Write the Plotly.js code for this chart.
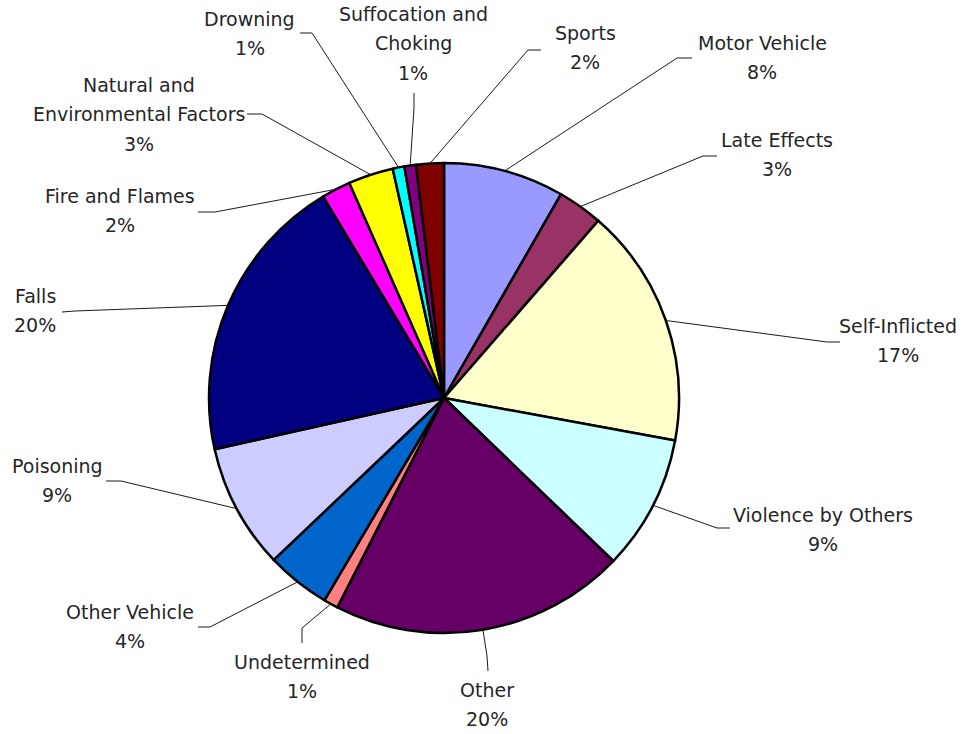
<!DOCTYPE html>
<html>
<head>
<meta charset="utf-8">
<script src="https://cdn.plot.ly/plotly-3.0.1.min.js"></script>
<style>html,body{margin:0;padding:0;background:#fff;}#chart{width:968px;height:734px;}</style>
</head>
<body>
<div id="chart"></div>
<script>
// ---- data ----
var categories = ["Motor Vehicle", "Late Effects", "Self-Inflicted", "Violence by Others", "Other",
  "Undetermined", "Other Vehicle", "Poisoning", "Falls", "Fire and Flames",
  "Natural and Environmental Factors", "Drowning", "Suffocation and Choking", "Sports"];
var values = [8.3, 3.1, 16.5, 9.3, 20.3, 1.0, 4.4, 8.6, 19.9, 2.0, 3.1, 0.8, 0.8, 1.9];
var labelLines = [["Motor Vehicle"], ["Late Effects"], ["Self-Inflicted"], ["Violence by Others"], ["Other"],
  ["Undetermined"], ["Other Vehicle"], ["Poisoning"], ["Falls"], ["Fire and Flames"],
  ["Natural and", "Environmental Factors"], ["Drowning"], ["Suffocation and", "Choking"], ["Sports"]];
var colors = ["#9999FF", "#993366", "#FFFFCC", "#CCFFFF", "#660066", "#FF8080", "#0066CC",
  "#CCCCFF", "#000080", "#FF00FF", "#FFFF00", "#00FFFF", "#800080", "#800000"];

// ---- layout (pixels) ----
var W = 968, H = 734;
var CX = 444, CY = 398, R = 235;
var LINE_H = 29.3;
// label block: x centre, y centre of first line
var labelX = [762, 777, 898, 823, 487, 302, 130, 57, 35, 120, 139, 250, 413, 585];
var labelY = [43, 140, 326, 515, 690, 662, 612, 466, 296, 196, 85, 19, 14, 33];
// leader line: elbow point and end point near label
var elbowX = [677, 703, 827, 717, 487, 302, 210, 121, 75, 215, 262, 312, 414, 528];
var elbowY = [58, 156, 342, 528, 656, 628, 627, 481, 311, 212, 114, 33, 108, 50];
var endX   = [692, 717, 840, 730, 488, 302, 198, 106, 62, 198, 247, 300, 414, 541];
var endY   = [58, 156, 342, 528, 671, 643, 627, 481, 312, 212, 114, 33, 93, 50];

function px(x){ return x / W; }
function py(y){ return 1 - y / H; }

var total = values.reduce(function(a,b){return a+b;}, 0);
var shapes = [], annotations = [];
var cum = 0;
var textFont = {family: "DejaVu Sans", size: 19, color: "#262626"};
var lineStyle = {color: "#1a1a1a", width: 1};
for (var i = 0; i < values.length; i++) {
  var mid = (cum + values[i] / 2) / total;
  cum += values[i];
  var ang = mid * 2 * Math.PI;
  var sx = CX + R * Math.sin(ang), sy = CY - R * Math.cos(ang);
  shapes.push({type: "line", xref: "paper", yref: "paper", x0: px(sx), y0: py(sy), x1: px(elbowX[i]), y1: py(elbowY[i]), line: lineStyle});
  shapes.push({type: "line", xref: "paper", yref: "paper", x0: px(elbowX[i]), y0: py(elbowY[i]), x1: px(endX[i]), y1: py(endY[i]), line: lineStyle});
  var lines = labelLines[i].concat([Math.round(values[i] / total * 100) + "%"]);
  for (var k = 0; k < lines.length; k++) {
    annotations.push({xref: "paper", yref: "paper", x: px(labelX[i]), y: py(labelY[i] + k * LINE_H),
      xanchor: "center", yanchor: "middle", text: lines[k], showarrow: false, font: textFont});
  }
}

var trace = {
  type: "pie",
  labels: categories,
  values: values,
  sort: false,
  direction: "clockwise",
  rotation: 0,
  textinfo: "none",
  hoverinfo: "label+percent",
  marker: {colors: colors, line: {color: "#000000", width: 2.5}},
  domain: {x: [px(CX - R), px(CX + R)], y: [py(CY + R), py(CY - R)]}
};

var layout = {
  width: W, height: H,
  margin: {l: 0, r: 0, t: 0, b: 0},
  paper_bgcolor: "#ffffff",
  showlegend: false,
  shapes: shapes,
  annotations: annotations
};

Plotly.newPlot("chart", [trace], layout, {displayModeBar: false, staticPlot: true});
</script>
</body>
</html>
